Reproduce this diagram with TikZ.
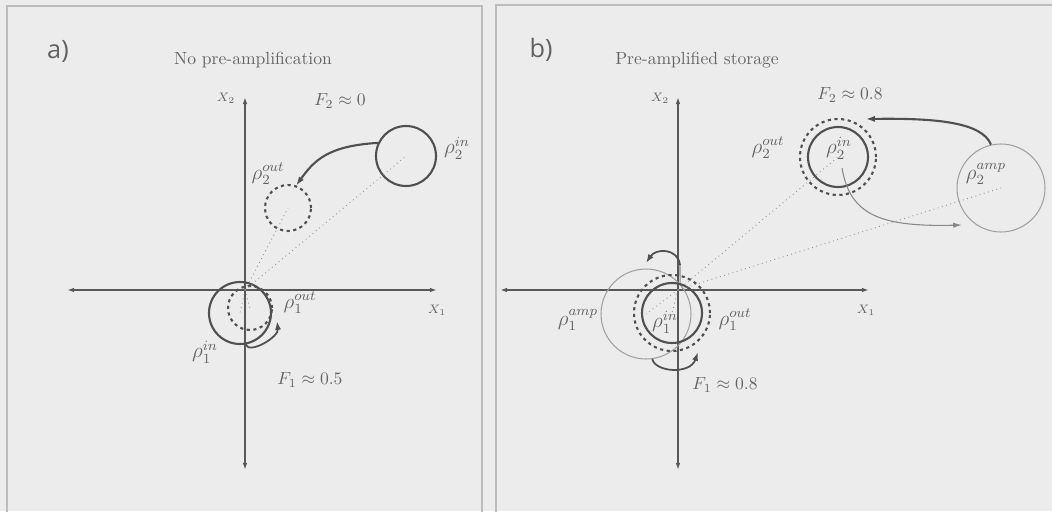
\documentclass[tikz,border=0pt]{standalone}
\usepackage{amsmath}
\usepackage{fontspec}
\newfontfamily\panelfont{Open Sans}
\usepackage{tikz}
\usetikzlibrary{arrows.meta}
\definecolor{paper}{RGB}{236,236,236}
\definecolor{framegray}{RGB}{188,188,188}
\definecolor{axisgray}{RGB}{88,88,88}
\definecolor{inkgray}{RGB}{80,80,80}
\definecolor{textgray}{RGB}{100,100,100}
\definecolor{ampgray}{RGB}{160,160,160}
\definecolor{dotgray}{RGB}{145,145,145}

\begin{document}
\begin{tikzpicture}[x=0.02cm, y=-0.02cm,
    axline/.style={axisgray, line width=1.1pt, {Latex[length=4pt,width=2.6pt]}-{Latex[length=4pt,width=2.6pt]}},
    state/.style={circle, draw=inkgray, line width=1.2pt, inner sep=0pt, minimum size=#1},
    outstate/.style={circle, draw=inkgray, line width=1.2pt, dash pattern=on 1.8pt off 2pt, inner sep=0pt, minimum size=#1},
    ampstate/.style={circle, draw=ampgray, line width=0.6pt, inner sep=0pt, minimum size=#1},
    ray/.style={dotgray, line width=0.5pt, dotted},
    move/.style={inkgray, line width=1.2pt, -{Latex[length=5pt,width=3.5pt]}},
    ampmove/.style={ampgray!85!black, line width=0.6pt, -{Latex[length=5pt,width=3pt]}},
    lbl/.style={text=textgray, inner sep=1pt},
    rholbl/.style={text=textgray, font=\large, inner sep=0pt},
    axlbl/.style={text=textgray, font=\scriptsize, inner sep=0pt},
    tag/.style={text=inkgray!90, font=\panelfont\Large, inner sep=0pt}
  ]
  \useasboundingbox (0,0) rectangle (1052,511);
  \clip (0,0) rectangle (1052,511);
  \fill[paper] (0,0) rectangle (1052,511);
  \draw[framegray, line width=0.8pt] (7,6) rectangle (482,540);
  \draw[framegray, line width=0.8pt] (496,5) rectangle (1070,540);

  % a) no pre-amplification
  \coordinate (oa) at (245,290);
  \draw[axline] (67,290) -- (437,290);
  \draw[axline] (245,97) -- (245,470);
  \node[axlbl] (ax1) at (437,310) {$X_1$};
  \node[axlbl] (ax2) at (226,98) {$X_2$};
  \node[tag] (atag) at (58,51) {a)};
  \node[lbl] (atitle) at (253,60) {No pre-amplification};
  \node[lbl] (aF2) at (340,101) {$F_2\approx 0$};
  \node[lbl] (aF1) at (310,380) {$F_1\approx 0.5$};

  \node[state=1.2cm] (a2in) at (406,156) {};
  \node[outstate=0.92cm] (a2out) at (288,208) {};
  \node[state=1.24cm] (a1in) at (240,313) {};
  \node[outstate=0.88cm] (a1out) at (250,308) {};
  \foreach \s in {a2in, a2out, a1in, a1out}
    \draw[ray] (oa) -- (\s.center);

  \node[rholbl] (ra2in) at (457,148) {$\rho_2^{in}$};
  \node[rholbl] (ra2out) at (268,174) {$\rho_2^{out}$};
  \node[rholbl] (ra1out) at (300,303) {$\rho_1^{out}$};
  \node[rholbl] (ra1in) at (205,352) {$\rho_1^{in}$};

  \coordinate (a1tip) at (277,321);
  \draw[move] (a2in.155) .. controls +(-50,3) and +(18,-25) .. (a2out.70);
  \draw[move, line width=1pt] (a1in.-80) .. controls +(4,10) and +(2,16) .. (a1tip);

  % b) pre-amplified storage
  \coordinate (ob) at (678,290);
  \draw[axline] (500,290) -- (869,290);
  \draw[axline] (678,97) -- (678,470);
  \node[axlbl] (bx1) at (866,310) {$X_1$};
  \node[axlbl] (bx2) at (660,98) {$X_2$};
  \node[tag] (btag) at (541,50) {b)};
  \node[lbl] (btitle) at (697,60) {Pre-amplified storage};
  \node[lbl] (bF2) at (850,95) {$F_2\approx 0.8$};
  \node[lbl] (bF1) at (725,385) {$F_1\approx 0.8$};

  \node[ampstate=1.76cm] (b2amp) at (1001,188) {};
  \node[outstate=1.52cm] (b2out) at (838,157) {};
  \node[state=1.2cm] (b2in) at (838,157) {};
  \node[ampstate=1.8cm] (b1amp) at (646,314) {};
  \node[outstate=1.52cm] (b1out) at (672,313) {};
  \node[state=1.2cm] (b1in) at (672,313) {};
  \foreach \s in {b2in, b2amp, b1amp, b1in}
    \draw[ray] (ob) -- (\s.center);

  \node[rholbl] (rb2out) at (768,148) {$\rho_2^{out}$};
  \node[rholbl] (rb2in) at (839,148) {$\rho_2^{in}$};
  \node[rholbl] (rb2amp) at (986,174) {$\rho_2^{amp}$};
  \node[rholbl] (rb1amp) at (578,320) {$\rho_1^{amp}$};
  \node[rholbl] (rb1in) at (665,322) {$\rho_1^{in}$};
  \node[rholbl] (rb1out) at (735,320) {$\rho_1^{out}$};

  \coordinate (b2top) at (866,119);
  \coordinate (b2start) at (842,168);
  \coordinate (b2tip) at (962,225);
  \coordinate (b1up) at (680,265);
  \coordinate (b1tip) at (646,263);
  \coordinate (b1tip2) at (698,352);
  \draw[move] (b2amp.103) .. controls (982,122) and (935,118) .. (b2top);
  \draw[ampmove] (b2start) .. controls (850,215) and (880,227) .. (b2tip);
  \draw[ampgray!85!black, line width=0.6pt] (b1in.75) -- (b1up);
  \draw[move, line width=1pt] (b1up) .. controls (678,248) and (656,248) .. (b1tip);
  \draw[move, line width=1pt] (b1amp.-82) .. controls (655,372) and (690,375) .. (b1tip2);
\end{tikzpicture}
\end{document}
